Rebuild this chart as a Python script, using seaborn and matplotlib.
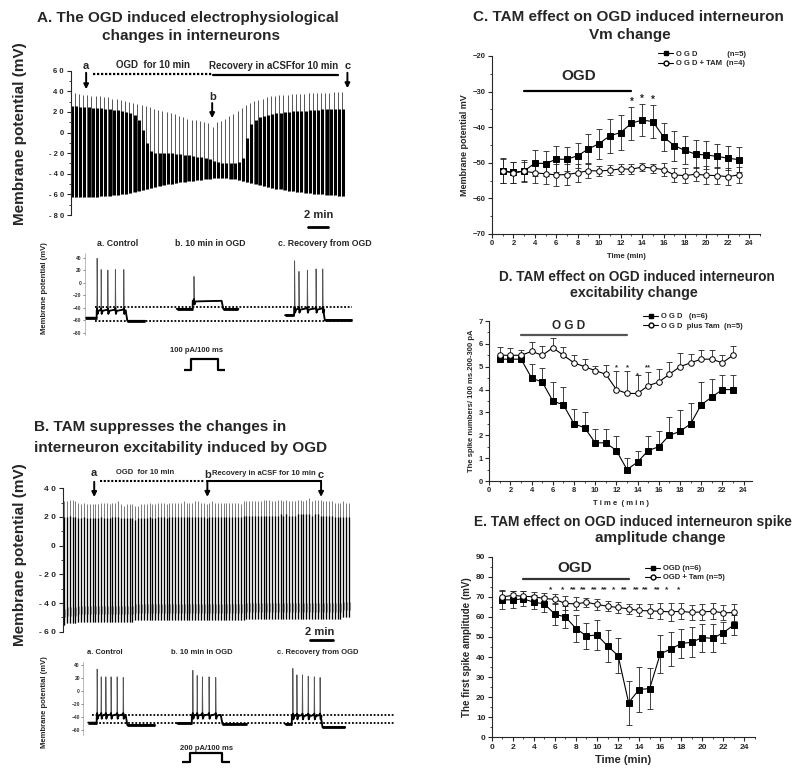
import numpy as np
import pandas as pd
import matplotlib
matplotlib.use("Agg")
import matplotlib.pyplot as plt
import seaborn as sns
from matplotlib.lines import Line2D
from matplotlib.ticker import MultipleLocator, FuncFormatter

sns.set_style("ticks")
plt.rcParams["font.family"] = ["Liberation Sans", "DejaVu Sans"]
plt.rcParams["font.weight"] = "bold"
plt.rcParams["axes.labelweight"] = "bold"
plt.rcParams["axes.linewidth"] = 0.8

# ---------------- data: panels C, D, E ----------------
time_min = list(range(1, 24))

c_ogd_mean = [-52.2, -52.7, -52.3, -50.1, -50.2, -49.0, -49.0, -48.0, -46.1, -44.6, -42.4, -41.5,
              -38.9, -38.0, -38.4, -42.7, -45.2, -46.5, -47.6, -47.8, -48.2, -48.7, -49.1]
c_ogd_sem = [3.6, 3.0, 3.0, 3.7, 3.4, 3.6, 3.3, 3.5, 4.3, 4.2, 4.8, 4.8, 4.6, 4.4, 4.6, 4.0, 4.2,
             3.9, 3.9, 3.9, 3.4, 3.3, 3.4]
c_tam_mean = [-52.4, -52.8, -52.4, -52.8, -53.1, -53.4, -53.3, -52.8, -52.2, -52.3, -52.1, -51.7,
              -51.8, -51.2, -51.5, -51.9, -53.4, -53.6, -53.2, -53.5, -53.6, -53.9, -53.4]
c_tam_sem = [3.4, 3.0, 2.7, 3.0, 2.8, 3.1, 2.9, 2.5, 2.1, 1.5, 1.4, 1.4, 1.4, 1.2, 1.3, 1.8, 2.0,
             2.2, 1.9, 2.5, 2.4, 2.3, 2.3]
c_star_time = [13, 14, 15]
c_star_y = [-32.8, -31.9, -32.3]
c_star_label = ["*", "*", "*"]

d_ogd_mean = [5.33, 5.33, 5.33, 4.5, 4.33, 3.5, 3.33, 2.5, 2.33, 1.67, 1.67, 1.33, 0.5, 0.83, 1.33,
              1.5, 2.0, 2.17, 2.5, 3.33, 3.67, 4.0, 4.0]
d_ogd_sem = [0.1, 0.1, 0.1, 0.6, 0.6, 0.85, 0.77, 0.65, 0.67, 0.6, 0.6, 0.62, 0.5, 0.47, 0.62, 0.67,
             0.82, 0.93, 0.9, 1.0, 0.8, 0.63, 0.63]
d_tam_mean = [5.5, 5.5, 5.5, 5.67, 5.5, 5.83, 5.5, 5.17, 5.0, 4.83, 4.67, 4.0, 3.83, 3.83, 4.17,
              4.33, 4.67, 5.0, 5.17, 5.33, 5.33, 5.17, 5.5]
d_tam_sem = [0.35, 0.3, 0.25, 0.4, 0.4, 0.42, 0.35, 0.33, 0.33, 0.22, 0.4, 0.8, 0.97, 0.8, 0.6,
             0.57, 0.53, 0.6, 0.38, 0.39, 0.39, 0.33, 0.4]
d_star_time = [12, 13, 14, 15]
d_star_y = [4.97, 4.97, 4.6, 4.97]
d_star_label = ["*", "*", "*", "**"]

e_ogd_mean = [68.5, 68.5, 69.0, 67.3, 66.5, 61.3, 60.0, 54.2, 50.5, 51.0, 45.5, 40.7, 17.3, 23.8,
              24.3, 41.5, 44.0, 46.7, 47.4, 49.7, 49.3, 52.2, 56.0]
e_ogd_sem = [4.7, 4.3, 3.8, 3.6, 4.0, 5.5, 5.5, 6.7, 6.4, 7.4, 8.0, 8.7, 11.0, 11.0, 10.0, 9.5, 8.3,
             7.3, 7.5, 7.0, 7.0, 5.3, 5.0]
e_tam_mean = [70.0, 70.7, 70.3, 70.0, 69.2, 68.7, 66.7, 66.5, 67.3, 66.2, 65.3, 64.7, 64.0, 63.2,
              63.0, 62.8, 62.5, 62.8, 62.2, 62.5, 62.8, 62.0, 62.2]
e_tam_sem = [3.0, 2.3, 2.5, 2.5, 2.8, 2.5, 3.5, 3.3, 2.3, 2.8, 2.5, 2.8, 2.5, 3.0, 3.3, 4.0, 4.5,
             4.0, 3.8, 4.0, 4.0, 3.7, 4.0]
e_star_time = [5.6, 6.7, 7.7, 8.7, 9.7, 10.7, 11.6, 12.6, 13.7, 14.6, 15.7, 16.6, 17.7]
e_star_label = ["*", "*", "**", "**", "**", "**", "*", "**", "**", "**", "**", "*", "*"]
e_star_y = 73.5

ogd_period = [3, 13]

# ---------------- data: panel A continuous recording (per sweep) ----------------
a_peak1 = [38, 38, 37, 36, 36, 35, 35, 35, 34, 34, 33, 33, 32, 31, 30, 29, 28, 27, 26, 25, 23, 22,
           21, 20, 19, 18, 16, 15, 13, 12, 12, 11, 10, 9, 5, 10, 11, 13, 16, 18, 21, 24, 27, 29,
           31, 32, 33, 34, 35, 35, 36, 36, 36, 37, 37, 37, 37, 38, 38, 38, 38, 38, 38, 39, 39, 39]
a_peak2 = [26, 26, 25, 25, 25, 24, 24, 24, 23, 23, 22, 22, 21, 20, 19, 17, 12, 2, -10, -18, -20,
           -20, -20, -20, -20, -21, -21, -22, -22, -23, -24, -24, -25, -26, -28, -29, -30, -30,
           -30, -30, -29, -25, -5, 8, 12, 15, 16, 17, 18, 19, 19, 20, 20, 21, 21, 21, 21, 22, 22,
           22, 23, 23, 23, 23, 23, 23]
a_trough = [-63, -63, -63, -63, -63, -63, -63, -62, -62, -62, -61, -61, -60, -60, -59, -58, -57,
            -56, -55, -54, -53, -52, -51, -50, -50, -49, -48, -48, -47, -47, -46, -46, -45, -45,
            -44, -44, -44, -44, -45, -45, -46, -47, -48, -49, -50, -51, -52, -53, -54, -55, -55,
            -56, -57, -57, -58, -58, -59, -59, -60, -60, -60, -61, -61, -61, -62, -62]

# ---------------- data: panel B continuous recording (per sweep) ----------------
b_peak1 = [31, 31, 32, 32, 31, 30, 29, 30, 29, 29, 29,
           29, 29, 30, 30, 30, 29, 30, 30, 31, 29,
           28, 29, 29, 29, 28, 28, 29, 29, 29, 30,
           29, 29, 30, 30, 30, 29, 30, 30, 30, 30,
           30, 31, 30, 30, 30, 31, 31, 30, 30, 29,
           30, 31, 30, 30, 30, 30, 30, 30, 30, 30,
           30, 29, 31, 31, 31, 31, 31, 31, 31, 32,
           32, 32, 31, 31, 32, 32, 31, 32, 31, 31,
           31, 32, 32, 31, 32, 33, 31, 32, 32, 32,
           31, 31, 31, 31, 30, 30, 30, 31, 30, 30]
b_peak2 = [20, 20, 21, 20, 20, 19, 19, 20, 19, 19, 19,
           19, 19, 20, 19, 19, 19, 20, 20, 20, 19,
           19, 19, 19, 19, 18, 19, 19, 19, 19, 20,
           19, 19, 20, 20, 20, 19, 20, 20, 20, 20,
           20, 20, 20, 20, 20, 20, 20, 20, 20, 19,
           20, 20, 20, 20, 20, 20, 20, 20, 20, 20,
           20, 20, 21, 21, 21, 21, 21, 21, 21, 21,
           21, 21, 21, 21, 21, 22, 21, 22, 21, 21,
           21, 22, 22, 22, 22, 22, 21, 22, 22, 21,
           21, 21, 21, 21, 20, 20, 20, 20, 20, 20]
b_trough = [-55, -54, -54, -54, -54, -53, -53, -53, -53, -53, -53,
            -53, -53, -53, -53, -53, -53, -53, -53, -53, -53,
            -53, -53, -53, -53, -52, -52, -52, -52, -52, -52,
            -52, -52, -52, -52, -52, -52, -52, -52, -52, -52,
            -52, -52, -52, -52, -52, -52, -52, -52, -52, -52,
            -52, -52, -52, -52, -52, -52, -52, -52, -52, -52,
            -52, -52, -52, -51, -51, -51, -51, -51, -51, -51,
            -51, -51, -51, -51, -51, -51, -51, -51, -51, -51,
            -51, -51, -51, -51, -51, -51, -51, -51, -51, -51,
            -51, -51, -51, -51, -51, -51, -51, -50, -50, -50]

# ---------------- data: single-sweep insets (ms, mV) ----------------
insA_titles = ["a. Control", "b. 10 min in OGD", "c. Recovery from OGD"]
insA_start = [0, 316, 690]
insA_onset = [40, 371, 721]
insA_end = [207, 529, 920]
insA_pre = [-56, -42, -52]
insA_inter = [-44, -29, -42]
insA_post = [-61, -42, -60]
insA_spike_t = [[0, 14, 37, 63, 92], [3], [0, 15, 44, 74, 97]]
insA_spike_pk = [[39, 21, 20, 21, 21], [10], [35, 18, 20, 22, 22]]
insA_dotted = [-38.4, -60.8]
insA_stim = "100 pA/100 ms"

insB_titles = ["a. Control", "b. 10 min in OGD", "c. Recovery from OGD"]
insB_start = [17, 322, 696]
insB_onset = [46, 374, 719]
insB_end = [247, 564, 903]
insB_pre = [-49, -50, -51]
insB_inter = [-37, -37, -38]
insB_post = [-53, -51, -56]
insB_spike_t = [[0, 14, 30, 48, 69, 90], [2, 17, 35, 58, 81], [2, 16, 35, 55, 76, 96]]
insB_spike_pk = [[34, 22, 22, 22, 22, 21], [32, 24, 22, 22, 21], [35, 25, 25, 23, 22, 21]]
insB_dotted = [-37, -50]
insB_stim = "200 pA/100 ms"
step_ms = 100

# ---------------- helpers ----------------
W, H = 800, 770
fig = plt.figure(figsize=(W / 100, H / 100), dpi=100)


def px_axes(x0, y0, x1, y1):
    return fig.add_axes([x0 / W, 1 - y1 / H, (x1 - x0) / W, (y1 - y0) / H])


def ftext(x, y, s, **kw):
    kw.setdefault("ha", "center")
    kw.setdefault("va", "center")
    kw.setdefault("fontweight", "bold")
    fig.text(x / W, 1 - y / H, s, **kw)


def spaced(v, pos=None):
    return " ".join(str(int(round(v))))


# ====================== Panel A ======================
ftext(188, 18, "A. The OGD induced electrophysiological", fontsize=11)
ftext(191, 36, "changes in interneurons", fontsize=11)
ftext(20, 134, "Membrane potential (mV)", fontsize=11, rotation=90)

axA = px_axes(70.7, 70.7, 352, 215)
sw = np.arange(len(a_peak1))
axA.vlines(sw - 0.32, a_trough, a_peak1, color="#555555", lw=0.7)
axA.vlines(sw, a_trough, a_peak2, color="black", lw=2.2)
axA.set_xlim(-0.3, 67.1)
axA.set_ylim(-80, 60)
sns.despine(ax=axA, bottom=True)
axA.set_xticks([])
axA.yaxis.set_major_locator(MultipleLocator(20))
axA.yaxis.set_minor_locator(MultipleLocator(10))
axA.yaxis.set_major_formatter(FuncFormatter(spaced))
axA.tick_params(axis="y", labelsize=5.5, length=3, width=0.8, pad=2)
axA.tick_params(axis="y", which="minor", length=1.5, width=0.6)
arrow_kw = dict(arrowstyle="-|>", color="black", lw=1.4, mutation_scale=7, shrinkA=0, shrinkB=0)
axA.text(3.4, 64.9, "a", ha="center", va="center", fontsize=8, clip_on=False)
axA.annotate("", xy=(3.4, 42), xytext=(3.4, 58), arrowprops=arrow_kw, annotation_clip=False)
axA.plot([5.0, 33.8], [56.8, 56.8], ls=(0, (1, 0.8)), color="black", lw=1.6, clip_on=False)
axA.plot([33.8, 63.8], [56.0, 56.0], color="black", lw=1.6, clip_on=False)
axA.text(19.4, 65.5, "OGD  for 10 min", ha="center", va="center", fontsize=7, clip_on=False)
axA.text(48.4, 64.9, "Recovery in aCSFfor 10 min", ha="center", va="center", fontsize=7,
         clip_on=False)
axA.text(66.0, 64.9, "c", ha="center", va="center", fontsize=8, clip_on=False)
axA.annotate("", xy=(66.0, 43), xytext=(66.0, 58), arrowprops=arrow_kw, annotation_clip=False)
axA.text(33.6, 34.8, "b", ha="center", va="center", fontsize=8)
axA.annotate("", xy=(33.6, 14), xytext=(33.6, 28.6), arrowprops=arrow_kw)
axA.text(59.0, -80, "2 min", ha="center", va="center", fontsize=8, clip_on=False)
axA.plot([56.6, 61.4], [-91.2, -91.2], color="black", lw=2, clip_on=False)


# ====================== insets ======================
def waveform(start, onset, end, pre, inter, post, sp_t, sp_pk):
    t = [start, onset, onset + 0.5]
    v = [pre, pre, inter]
    for ts, pk in zip(sp_t, sp_pk):
        s = onset + ts + 1
        t += [s, s + 0.8, s + 2.5, s + 6]
        v += [inter + 1, pk, inter - 6, inter - 1]
    t += [onset + step_ms, onset + step_ms + 6, end]
    v += [inter, post, post]
    return t, v


def draw_inset(ax, starts, onsets, ends, pres, inters, posts, spt, sppk, dotted, xr):
    for k in range(3):
        t, v = waveform(starts[k], onsets[k], ends[k], pres[k], inters[k], posts[k], spt[k], sppk[k])
        sns.lineplot(x=t, y=v, ax=ax, sort=False, estimator=None, color="#555555", lw=0.6)
        vclip = np.minimum(v, inters[k] + 3)
        sns.lineplot(x=t, y=vclip, ax=ax, sort=False, estimator=None, color="black", lw=1.3)
        ax.plot([starts[k], onsets[k]], [pres[k], pres[k]], color="black", lw=2.0,
                solid_capstyle="butt")
        ax.plot([onsets[k] + step_ms + 6, ends[k]], [posts[k], posts[k]], color="black", lw=2.0,
                solid_capstyle="butt")
    for lv in dotted:
        ax.plot(xr, [lv, lv], ls=(0, (1, 1)), color="black", lw=1.3)
    sns.despine(ax=ax, bottom=True)
    ax.set_xticks([])
    ax.spines["left"].set_linewidth(0.4)
    ax.spines["left"].set_color("#888888")
    ax.yaxis.set_major_locator(MultipleLocator(20))
    ax.tick_params(axis="y", labelsize=3.5, length=1.5, width=0.4, pad=1, colors="#333333")


def draw_stim(x0, y0, x1, y1):
    ax = px_axes(x0, y0, x1, y1)
    pad = 0.25 * step_ms
    st = [0, pad, pad, pad + step_ms, pad + step_ms, 2 * pad + step_ms]
    sl = [0, 0, 1, 1, 0, 0]
    sns.lineplot(x=st, y=sl, ax=ax, sort=False, estimator=None, color="black", lw=1.6)
    ax.set_xlim(0, 2 * pad + step_ms)
    ax.set_ylim(-0.2, 1.2)
    ax.axis("off")


axIA = px_axes(85, 253, 355, 335)
draw_inset(axIA, insA_start, insA_onset, insA_end, insA_pre, insA_inter, insA_post,
           insA_spike_t, insA_spike_pk, insA_dotted, [34, 921])
axIA.set_xlim(0, 931)
axIA.set_ylim(-83.7, 47.5)
for xpx, ttl in zip([118, 210, 325], insA_titles):
    ftext(xpx, 243, ttl, fontsize=6.3)
ftext(45, 288, "Membrane potential (mV)", fontsize=5.5, rotation=90)
ftext(197, 350, insA_stim, fontsize=5.5)
draw_stim(184, 357, 225, 372)

# ====================== Panel B ======================
ftext(34, 427, "B. TAM suppresses the changes in", fontsize=11, ha="left")
ftext(34, 448, "interneuron excitability induced by OGD", fontsize=11, ha="left")
ftext(20, 555, "Membrane potential (mV)", fontsize=11, rotation=90)

axB = px_axes(62.7, 488.3, 352, 631.7)
swb = np.arange(len(b_peak1))
axB.vlines(swb, b_trough, b_peak1, color="#666666", lw=0.6)
axB.vlines(swb, b_trough, b_peak2, color="black", lw=0.95)
axB.vlines(swb + 0.35, np.array(b_trough) + 5, np.array(b_trough) + 11, color="#888888", lw=0.8)
axB.set_xlim(-0.46, 101.05)
axB.set_ylim(-60, 40)
sns.despine(ax=axB, bottom=True)
axB.set_xticks([])
axB.yaxis.set_major_locator(MultipleLocator(20))
axB.yaxis.set_minor_locator(MultipleLocator(10))
axB.yaxis.set_major_formatter(FuncFormatter(spaced))
axB.tick_params(axis="y", labelsize=6, length=3, width=0.8, pad=2)
axB.tick_params(axis="y", which="minor", length=1.5, width=0.6)
axB.text(10.6, 50.5, "a", ha="center", va="center", fontsize=8, clip_on=False)
axB.annotate("", xy=(10.6, 33.9), xytext=(10.6, 44.5), arrowprops=arrow_kw, annotation_clip=False)
axB.plot([12.6, 49.1], [45.1, 45.1], ls=(0, (1, 0.8)), color="black", lw=1.5, clip_on=False)
axB.text(28.4, 50.9, "OGD  for 10 min", ha="center", va="center", fontsize=5.5, clip_on=False)
axB.text(50.3, 49.6, "b", ha="center", va="center", fontsize=8, clip_on=False)
axB.text(52.0, 50.5, "Recovery in aCSF for 10 min", ha="left", va="center", fontsize=5.5,
         clip_on=False)
axB.text(90.2, 49.6, "c", ha="center", va="center", fontsize=8, clip_on=False)
axB.plot([50.3, 90.2], [45.1, 45.1], color="black", lw=1.5, clip_on=False)
axB.annotate("", xy=(50.3, 34), xytext=(50.3, 45.1), arrowprops=arrow_kw, annotation_clip=False)
axB.annotate("", xy=(90.2, 34), xytext=(90.2, 45.1), arrowprops=arrow_kw, annotation_clip=False)
axB.text(89.8, -60, "2 min", ha="center", va="center", fontsize=8, clip_on=False)
axB.plot([86.3, 94.4], [-65.8, -65.8], color="black", lw=2, clip_on=False)

axIB = px_axes(83.3, 662, 397, 735)
draw_inset(axIB, insB_start, insB_onset, insB_end, insB_pre, insB_inter, insB_post,
           insB_spike_t, insB_spike_pk, insB_dotted, [29, 1076])
axIB.set_xlim(0, 1082)
axIB.set_ylim(-68.2, 45)
for xpx, ttl in zip([105, 202, 318], insB_titles):
    ftext(xpx, 652, ttl, fontsize=5.5)
ftext(45, 702, "Membrane potential (mV)", fontsize=5.5, rotation=90)
ftext(207, 748, insB_stim, fontsize=5.5)
draw_stim(182, 751, 230, 764)


# ====================== Panels C, D, E ======================
def series(ax, y, err, marker, face, upper_only=False):
    df = pd.DataFrame({"t": time_min, "y": y})
    yerr = [np.zeros(len(err)), err] if upper_only else err
    ax.errorbar(time_min, y, yerr=yerr, fmt="none", ecolor="#222222", elinewidth=0.6,
                capsize=2, capthick=0.6, zorder=2)
    sns.lineplot(data=df, x="t", y="y", ax=ax, color="black", lw=0.8, marker=marker,
                 markersize=4, markerfacecolor=face, markeredgecolor="black",
                 markeredgewidth=0.7, zorder=3)


def style_axes(ax, xmax, ylo, yhi, ymaj, ymin, lab_size):
    ax.set_xlim(0, xmax)
    ax.set_ylim(ylo, yhi)
    sns.despine(ax=ax)
    ax.xaxis.set_major_locator(MultipleLocator(2))
    ax.xaxis.set_minor_locator(MultipleLocator(1))
    ax.yaxis.set_major_locator(MultipleLocator(ymaj))
    ax.yaxis.set_minor_locator(MultipleLocator(ymin))
    ax.tick_params(which="major", labelsize=lab_size, length=3, width=0.8, pad=1.5)
    ax.tick_params(which="minor", length=1.6, width=0.6)
    for lb in ax.get_xticklabels() + ax.get_yticklabels():
        lb.set_fontweight("bold")


h_sq = Line2D([], [], color="black", lw=0.8, marker="s", ms=3.5, mfc="black", mec="black")
h_ci = Line2D([], [], color="black", lw=0.8, marker="o", ms=3.5, mfc="white", mec="black")
leg_kw = dict(loc="upper left", frameon=False, handlelength=2.0, handletextpad=0.3,
              labelspacing=0.25, borderaxespad=0, borderpad=0,
              prop={"weight": "bold", "size": 5.5})

# ---- C
ftext(628, 17, "C. TAM effect on OGD induced interneuron", fontsize=11)
ftext(630, 35, "Vm change", fontsize=11)
axC = px_axes(492, 56, 760, 234)
series(axC, c_ogd_mean, c_ogd_sem, "s", "black")
series(axC, c_tam_mean, c_tam_sem, "o", "white")
style_axes(axC, 25, -70, -20, 10, 5, 5.5)
axC.plot(ogd_period, [-29.7, -29.7], color="black", lw=1.6)
axC.text(8.1, -25.6, "OGD", ha="center", va="center", fontsize=11)
for xs, ys, ls in zip(c_star_time, c_star_y, c_star_label):
    axC.text(xs, ys, ls, ha="center", va="center", fontsize=7)
axC.set_xlabel("Time (min)", fontsize=5.5, labelpad=4)
axC.set_ylabel("Membrane potential mV", fontsize=6.5, labelpad=3)
axC.legend([h_sq, h_ci], ["O G D              (n=5)", "O G D + TAM  (n=4)"],
           bbox_to_anchor=(0.62, 1.03), **leg_kw)

# ---- D
ftext(637, 277, "D. TAM effect on OGD induced interneuron", fontsize=9.8)
ftext(634, 293, "excitability change", fontsize=10.3)
axD = px_axes(489.3, 321, 752, 481)
series(axD, d_ogd_mean, d_ogd_sem, "s", "black", upper_only=True)
series(axD, d_tam_mean, d_tam_sem, "o", "white", upper_only=True)
style_axes(axD, 24.8, 0, 7, 1, 0.5, 5.5)
axD.plot(ogd_period, [6.39, 6.39], color="#555555", lw=1.6)
axD.text(7.46, 6.78, "O G D", ha="center", va="center", fontsize=8.5)
for xs, ys, ls in zip(d_star_time, d_star_y, d_star_label):
    axD.text(xs, ys, ls, ha="center", va="center", fontsize=5.5)
axD.set_xlabel("T i m e  ( m i n )", fontsize=5.5, labelpad=4)
axD.set_ylabel("The spike numbers/ 100 ms.200-300 pA", fontsize=5.5, labelpad=3)
axD.legend([h_sq, h_ci], ["O G D   (n=6)", "O G D  plus Tam  (n=5)"],
           bbox_to_anchor=(0.585, 1.05), **leg_kw)

# ---- E
ftext(633, 522, "E. TAM effect on OGD induced interneuron spike", fontsize=9.9)
ftext(660, 538, "amplitude change", fontsize=11)
axE = px_axes(491.7, 556.7, 755, 737.3)
series(axE, e_ogd_mean, e_ogd_sem, "s", "black")
series(axE, e_tam_mean, e_tam_sem, "o", "white")
style_axes(axE, 25, 0, 90, 10, 5, 6)
axE.plot(ogd_period, [78.7, 78.7], color="#333333", lw=1.6)
axE.text(7.9, 84.5, "OGD", ha="center", va="center", fontsize=11)
for xs, ls in zip(e_star_time, e_star_label):
    axE.text(xs, e_star_y, ls, ha="center", va="center", fontsize=6)
axE.set_xlabel("Time (min)", fontsize=8, labelpad=3)
axE.set_ylabel("The first spike amplitude (mV)", fontsize=7, labelpad=3)
axE.legend([h_sq, h_ci], ["OGD (n=6)", "OGD + Tam (n=5)"],
           bbox_to_anchor=(0.582, 0.955), **leg_kw)

fig.savefig("out.png", dpi=100)
